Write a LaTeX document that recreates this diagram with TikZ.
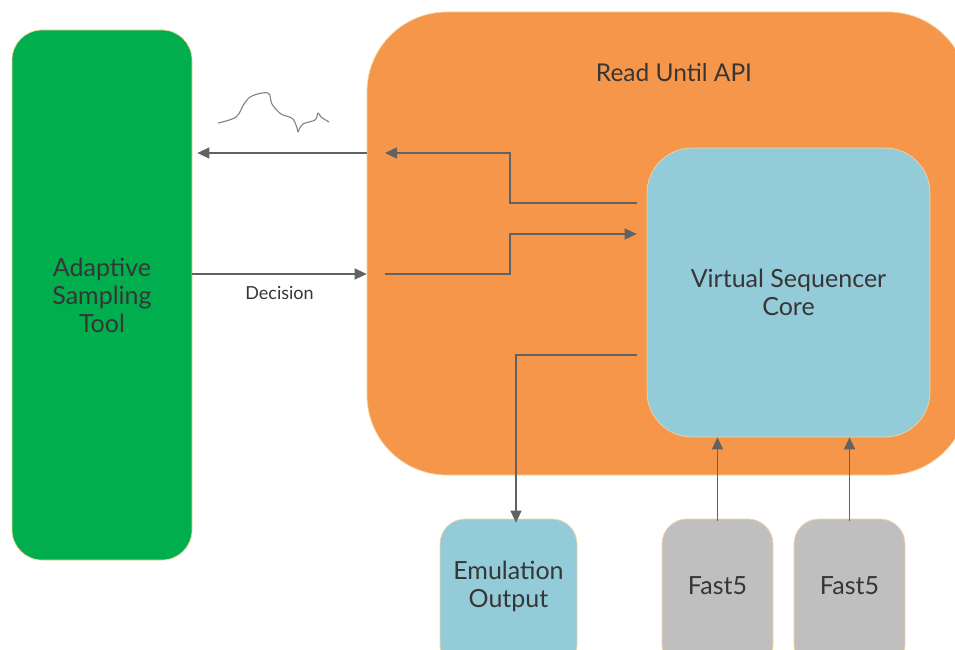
\documentclass[tikz,border=0pt]{standalone}
\usepackage{fontspec}
\setmainfont{Lato}
\usetikzlibrary{arrows.meta}
\definecolor{toolgreen}{HTML}{00AE4D}
\definecolor{apiorange}{HTML}{F5964A}
\definecolor{corblue}{HTML}{94CBD9}
\definecolor{filegray}{HTML}{BFBFBF}
\definecolor{edgeline}{HTML}{F2D49C}
\definecolor{wire}{HTML}{626262}
\definecolor{ink}{HTML}{363636}
\tikzset{
  box/.style={draw=edgeline, line width=0.7pt, inner sep=0pt, align=center,
    text=ink, font=\fontsize{25}{28}\selectfont},
  lbl/.style={text=ink, align=center, font=\fontsize{25}{28}\selectfont, inner sep=0pt},
  flow/.style={draw=wire, line width=1.4pt,
    -{Triangle[length=12pt,width=11pt]}},
  plain/.style={draw=wire, line width=1.4pt}
}
\begin{document}
\begin{tikzpicture}[x=1pt,y=-1pt]
\useasboundingbox (0,0) rectangle (955,650);
% main blocks
\node[box, fill=toolgreen, rounded corners=30pt, minimum width=180pt, minimum height=530pt]
  (tool) at (102,295) {Adaptive\\Sampling\\Tool};
\node[box, fill=apiorange, rounded corners=80pt, minimum width=601pt, minimum height=463pt]
  (api) at (667.5,243.5) {};
\node[lbl, font=\fontsize{24.5}{28}\selectfont] (apititle) at (674,73) {Read Until API};
\node[box, fill=corblue, rounded corners=45pt, minimum width=283pt, minimum height=289pt]
  (core) at (788.5,292.5) {Virtual Sequencer\\Core};
\node[box, fill=corblue, rounded corners=25pt, minimum width=137pt, minimum height=151pt]
  (emu) at (508.5,594.5) {};
\node[lbl] (emutext) at (508.5,586) {Emulation\\Output};
\node[box, fill=filegray, rounded corners=25pt, minimum width=111pt, minimum height=151pt]
  (fa) at (717.5,594.5) {};
\node[lbl] (fatext) at (717.5,586) {Fast5};
\node[box, fill=filegray, rounded corners=25pt, minimum width=111pt, minimum height=151pt]
  (fb) at (849.5,594.5) {};
\node[lbl] (fbtext) at (849.5,586) {Fast5};

% signal sketch
\draw[wire!80, line width=1.1pt, line join=round] plot[smooth, tension=0.6] coordinates
  {(218,123) (236,117) (244,104) (252,96) (268,93) (272,104) (281,114) (293,119) (298,132)};
\draw[wire!80, line width=1.1pt, line join=round] plot[smooth, tension=0.6] coordinates
  {(298,132) (303,124) (315,120) (318,113) (321,117) (329,122)};

% anchors for the connectors
\coordinate (readOut) at (api.west |- 0,153);
\coordinate (toolIn) at ([xshift=5pt]tool.east |- 0,153);
\coordinate (decOut) at (tool.east |- 0,274);
\coordinate (decIn) at (api.west |- 0,274);
\coordinate (apiL1) at (385,153);
\coordinate (apiL2) at (385,274);
\coordinate (coreA) at ([xshift=-10pt]core.west |- 0,203);
\coordinate (coreB) at ([xshift=-10pt]core.west |- 0,234);
\coordinate (coreC) at ([xshift=-10pt]core.west |- 0,355);

% connectors
\draw[flow] (readOut) -- (toolIn);
\draw[flow] (decOut) -- node[below=12pt, lbl, font=\fontsize{18}{21}\selectfont] (declbl) {Decision} (decIn);
\draw[flow] (coreA) -- (510,203) -- (510,153) -- (apiL1);
\draw[flow] (apiL2) -- (510,274) -- (510,234) -- (coreB);
\draw[flow] (coreC) -- (516,355) -- ([yshift=-4pt]emu.north -| 516,0);
\draw[flow] ([yshift=-2pt]fa.north) -- (core.south -| fa.north);
\draw[flow] ([yshift=-2pt]fb.north) -- (core.south -| fb.north);
\end{tikzpicture}
\end{document}
